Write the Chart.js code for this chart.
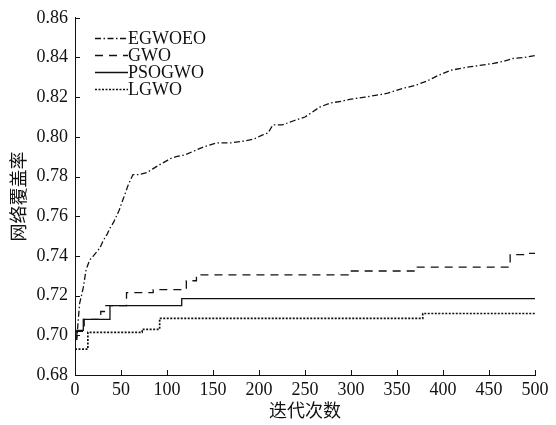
<!DOCTYPE html>
<html><head><meta charset="utf-8">
<script src="https://cdn.jsdelivr.net/npm/chart.js@4/dist/chart.umd.min.js"></script>
<style>html,body{margin:0;padding:0;background:#fff}</style>
</head><body>
<canvas id="c" width="556" height="425" style="width:556px;height:425px;display:block"></canvas>
<script>
// ---- data ----
const seriesNames = ['EGWOEO', 'GWO', 'PSOGWO', 'LGWO'];

const egwoeoX = [0,2,5,9,12,16,20,27,31,35,38,42,45,48,51,55,58,61,63,70,78,85,92,100,103,110,120,130,140,154,170,185,195,204,210,215,225,237,250,266,277,290,300,315,328,340,357,370,382,395,408,425,440,455,465,476,488,500];
const egwoeoY = [0.697,0.699,0.716,0.724,0.733,0.738,0.740,0.744,0.748,0.751,0.754,0.757,0.760,0.763,0.767,0.772,0.776,0.779,0.781,0.781,0.782,0.784,0.786,0.788,0.789,0.790,0.791,0.793,0.795,0.797,0.797,0.798,0.799,0.801,0.802,0.806,0.806,0.808,0.810,0.815,0.817,0.818,0.819,0.820,0.821,0.822,0.8245,0.826,0.828,0.831,0.8335,0.835,0.836,0.837,0.838,0.8395,0.840,0.841];

const gwoX = [0,10,28,32,56,85,121,132,297,372,473,490,500];
const gwoY = [0.702,0.708,0.712,0.715,0.7215,0.723,0.7275,0.7305,0.7324,0.7344,0.7407,0.7413,0.7413];

const psogwoX = [0,2,9,38,116,500];
const psogwoY = [0.698,0.7025,0.708,0.715,0.7185,0.7185];

const lgwoX = [0,14,73,92,378,500];
const lgwoY = [0.693,0.7015,0.703,0.7085,0.711,0.711];

const xTicks = [0,50,100,150,200,250,300,350,400,450,500];
const yTicks = [0.68,0.70,0.72,0.74,0.76,0.78,0.80,0.82,0.84,0.86];
const xTitle = '迭代次数';
const yTitle = '网络覆盖率';

const toPts = (xs, ys) => xs.map((x, i) => ({x, y: ys[i]}));

const serif = '"Liberation Serif", "Times New Roman", serif';
const cjk = '"Noto Sans CJK SC", sans-serif';
const ink = '#111';

const inwardTicks = {
  id: 'inwardTicks',
  afterDraw(chart) {
    const {ctx, scales: {x, y}} = chart;
    ctx.save();
    ctx.strokeStyle = ink;
    ctx.lineWidth = 1;
    ctx.beginPath();
    xTicks.forEach(v => {
      const px = Math.round(x.getPixelForValue(v)) + 0.5;
      ctx.moveTo(px, y.bottom); ctx.lineTo(px, y.bottom - 5);
    });
    yTicks.forEach(v => {
      const py = Math.round(y.getPixelForValue(v)) + 0.5;
      ctx.moveTo(x.left, py); ctx.lineTo(x.left + 5, py);
    });
    ctx.stroke();
    ctx.restore();
  }
};

const lineLegend = {
  id: 'lineLegend',
  afterDraw(chart) {
    const {ctx} = chart;
    ctx.save();
    ctx.font = '18px ' + serif;
    ctx.textBaseline = 'middle';
    ctx.fillStyle = ink;
    chart.data.datasets.forEach((ds, i) => {
      const yy = 38 + i * 17;
      ctx.strokeStyle = ds.borderColor;
      ctx.lineWidth = ds.borderWidth;
      ctx.setLineDash(ds.borderDash || []);
      ctx.beginPath();
      ctx.moveTo(95, yy + 0.5); ctx.lineTo(128, yy + 0.5);
      ctx.stroke();
      ctx.setLineDash([]);
      ctx.fillText(ds.label, 128, yy + 1);
    });
    ctx.restore();
  }
};

const common = {borderColor: ink, borderWidth: 1.3, pointRadius: 0, fill: false, tension: 0};

new Chart(document.getElementById('c'), {
  type: 'line',
  data: {
    datasets: [
      Object.assign({}, common, {label: seriesNames[0], data: toPts(egwoeoX, egwoeoY), borderDash: [6,2.5,1.5,2.5]}),
      Object.assign({}, common, {label: seriesNames[1], data: toPts(gwoX, gwoY), borderDash: [8,6], stepped: true}),
      Object.assign({}, common, {label: seriesNames[2], data: toPts(psogwoX, psogwoY), borderDash: [], stepped: true}),
      Object.assign({}, common, {label: seriesNames[3], data: toPts(lgwoX, lgwoY), borderDash: [2,1.5], borderWidth: 1.7, stepped: true})
    ]
  },
  options: {
    responsive: false,
    animation: false,
    devicePixelRatio: 1,
    layout: {padding: {left: 0, top: 14, right: 21, bottom: 0}},
    plugins: {legend: {display: false}, tooltip: {enabled: false}},
    scales: {
      x: {
        type: 'linear', min: 0, max: 500,
        afterBuildTicks: s => { s.ticks = xTicks.map(v => ({value: v})); },
        afterFit: s => { s.height = 50; },
        grid: {display: true, drawOnChartArea: false, drawTicks: false},
        border: {display: true, color: ink, width: 1},
        ticks: {color: ink, font: {family: serif, size: 18}, padding: 4, maxRotation: 0, autoSkip: false},
        title: {display: true, text: xTitle, color: ink, font: {family: cjk, size: 18, lineHeight: 1}, padding: {top: 0, bottom: 6}}
      },
      y: {
        type: 'linear', min: 0.68, max: 0.86,
        afterBuildTicks: s => { s.ticks = yTicks.map(v => ({value: v})); },
        afterFit: s => { s.width = 75; },
        grid: {display: true, drawOnChartArea: false, drawTicks: false},
        border: {display: true, color: ink, width: 1},
        ticks: {color: ink, font: {family: serif, size: 18}, padding: 7, autoSkip: false, callback: v => Number(v).toFixed(2)},
        title: {display: true, text: yTitle, color: ink, font: {family: cjk, size: 18, lineHeight: 1}, padding: {top: 9, bottom: 0}}
      }
    }
  },
  plugins: [inwardTicks, lineLegend]
});
</script>
</body></html>
